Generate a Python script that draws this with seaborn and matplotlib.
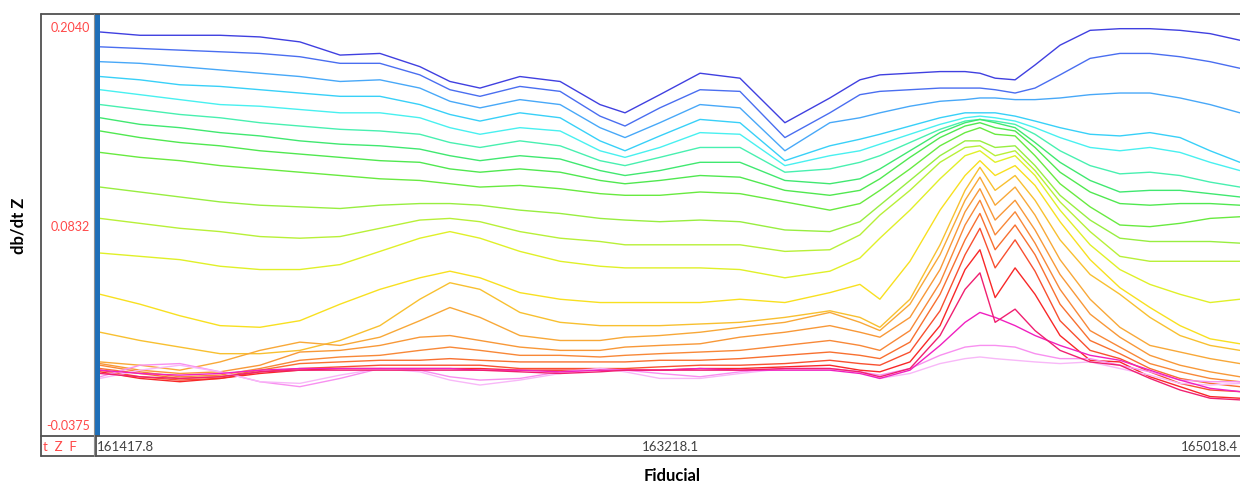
import matplotlib
matplotlib.use("Agg")
import matplotlib.pyplot as plt
import pandas as pd
import seaborn as sns
from matplotlib.lines import Line2D
from matplotlib.patches import Rectangle

# ---------------- data ----------------
FIDUCIAL = [161418, 161544, 161670, 161797, 161923, 162049, 162176, 162302, 162428,
            162523, 162618, 162744, 162871, 162997, 163076, 163186, 163313, 163439,
            163581, 163723, 163818, 163881, 163976, 164071, 164150, 164197, 164245,
            164308, 164371, 164450, 164545, 164639, 164734, 164829, 164924, 165018]

L1 = [0.201,0.199,0.199,0.199,0.198,0.195,0.187,0.188,0.180,0.171,0.167,0.174,0.171,0.157,0.152,0.163,0.176,0.173,0.146,0.161,0.172,0.175,0.176,0.177,0.177,0.176,0.173,0.172,0.181,0.193,0.202,0.203,0.203,0.202,0.200,0.196]
L2 = [0.192,0.191,0.190,0.189,0.188,0.186,0.182,0.182,0.175,0.166,0.162,0.168,0.165,0.150,0.144,0.155,0.166,0.165,0.137,0.152,0.163,0.165,0.166,0.167,0.167,0.167,0.166,0.164,0.167,0.175,0.185,0.188,0.188,0.186,0.183,0.179]
L3 = [0.183,0.182,0.180,0.178,0.176,0.174,0.171,0.172,0.167,0.159,0.155,0.160,0.157,0.143,0.137,0.146,0.157,0.155,0.129,0.146,0.149,0.152,0.156,0.159,0.160,0.161,0.161,0.160,0.160,0.161,0.163,0.164,0.164,0.161,0.157,0.152]
L4 = [0.174,0.172,0.169,0.168,0.166,0.164,0.162,0.162,0.157,0.151,0.147,0.152,0.149,0.135,0.129,0.138,0.148,0.146,0.123,0.132,0.136,0.139,0.144,0.149,0.152,0.152,0.152,0.150,0.147,0.143,0.139,0.138,0.140,0.137,0.129,0.122]
L5 = [0.166,0.163,0.160,0.157,0.156,0.154,0.152,0.152,0.149,0.143,0.139,0.143,0.141,0.129,0.125,0.131,0.140,0.139,0.120,0.126,0.129,0.133,0.139,0.145,0.149,0.150,0.149,0.147,0.143,0.137,0.131,0.129,0.131,0.128,0.122,0.117]
L6 = [0.157,0.154,0.151,0.149,0.146,0.144,0.142,0.141,0.139,0.134,0.131,0.135,0.132,0.123,0.120,0.125,0.131,0.131,0.116,0.118,0.122,0.126,0.134,0.142,0.147,0.148,0.147,0.145,0.139,0.129,0.120,0.115,0.116,0.114,0.110,0.107]
L7 = [0.149,0.145,0.143,0.140,0.138,0.135,0.133,0.132,0.130,0.126,0.123,0.126,0.124,0.117,0.114,0.117,0.122,0.122,0.111,0.109,0.112,0.118,0.129,0.140,0.146,0.148,0.146,0.143,0.134,0.122,0.111,0.104,0.105,0.105,0.103,0.101]
L8 = [0.141,0.137,0.134,0.132,0.129,0.127,0.125,0.123,0.122,0.118,0.116,0.118,0.116,0.111,0.109,0.111,0.114,0.113,0.105,0.102,0.105,0.112,0.125,0.137,0.144,0.146,0.143,0.141,0.131,0.116,0.104,0.097,0.096,0.097,0.097,0.096]
L9 = [0.128,0.125,0.123,0.120,0.118,0.116,0.114,0.112,0.111,0.109,0.107,0.108,0.106,0.103,0.102,0.102,0.104,0.103,0.098,0.093,0.097,0.105,0.118,0.132,0.140,0.143,0.139,0.138,0.126,0.109,0.095,0.084,0.083,0.085,0.088,0.089]
L10 = [0.107,0.104,0.101,0.098,0.096,0.095,0.094,0.096,0.097,0.097,0.096,0.093,0.091,0.088,0.087,0.086,0.087,0.086,0.081,0.080,0.086,0.096,0.111,0.126,0.135,0.135,0.131,0.132,0.120,0.102,0.087,0.076,0.074,0.074,0.074,0.073]
L11 = [0.088,0.085,0.082,0.080,0.077,0.076,0.077,0.082,0.087,0.088,0.086,0.080,0.076,0.074,0.072,0.072,0.072,0.072,0.068,0.069,0.078,0.090,0.105,0.122,0.131,0.132,0.126,0.129,0.117,0.098,0.080,0.065,0.062,0.062,0.062,0.062]
L12 = [0.067,0.065,0.063,0.059,0.057,0.057,0.060,0.068,0.076,0.080,0.076,0.068,0.062,0.059,0.058,0.058,0.058,0.057,0.052,0.056,0.064,0.076,0.093,0.112,0.126,0.129,0.122,0.126,0.114,0.093,0.072,0.057,0.048,0.042,0.037,0.039]
L13 = [0.042,0.036,0.029,0.023,0.022,0.026,0.036,0.045,0.052,0.056,0.052,0.043,0.039,0.037,0.037,0.037,0.037,0.039,0.037,0.043,0.048,0.039,0.062,0.093,0.114,0.123,0.114,0.120,0.108,0.086,0.063,0.046,0.034,0.023,0.015,0.012]
L14 = [0.019,0.014,0.010,0.006,0.006,0.008,0.014,0.023,0.039,0.049,0.045,0.031,0.025,0.023,0.023,0.023,0.024,0.025,0.028,0.032,0.028,0.022,0.039,0.072,0.105,0.119,0.105,0.114,0.099,0.075,0.054,0.042,0.028,0.017,0.011,0.008]
C1 = [0.001,-0.001,-0.004,0.001,0.008,0.013,0.011,0.016,0.026,0.034,0.028,0.017,0.014,0.014,0.016,0.017,0.019,0.022,0.025,0.031,0.025,0.020,0.036,0.066,0.099,0.113,0.096,0.107,0.090,0.063,0.039,0.022,0.011,0.007,0.003,0.000]
C2 = [0.000,-0.004,-0.006,-0.005,-0.001,0.007,0.008,0.011,0.016,0.017,0.014,0.010,0.008,0.008,0.010,0.011,0.012,0.016,0.019,0.023,0.019,0.016,0.028,0.057,0.092,0.106,0.087,0.099,0.081,0.054,0.030,0.016,0.005,-0.001,-0.005,-0.008]
C3 = [-0.001,-0.005,-0.008,-0.007,-0.003,0.002,0.004,0.005,0.008,0.010,0.008,0.005,0.005,0.004,0.005,0.006,0.007,0.008,0.011,0.014,0.011,0.008,0.020,0.049,0.084,0.099,0.078,0.092,0.073,0.045,0.020,0.010,0.000,-0.005,-0.009,-0.011]
C4 = [-0.003,-0.006,-0.009,-0.008,-0.004,0.000,0.001,0.002,0.002,0.003,0.002,0.001,0.001,0.001,0.001,0.002,0.002,0.003,0.005,0.007,0.005,0.003,0.013,0.042,0.075,0.091,0.069,0.084,0.066,0.036,0.014,0.006,-0.003,-0.009,-0.012,-0.014]
C5 = [-0.004,-0.008,-0.010,-0.009,-0.005,-0.003,-0.002,-0.001,-0.001,-0.001,-0.001,-0.003,-0.003,-0.003,-0.003,-0.002,-0.001,-0.001,0.000,0.002,0.000,-0.001,0.007,0.032,0.066,0.082,0.058,0.075,0.056,0.026,0.008,0.003,-0.005,-0.012,-0.016,-0.017]
C6 = [-0.005,-0.009,-0.011,-0.009,-0.006,-0.004,-0.003,-0.003,-0.003,-0.003,-0.003,-0.004,-0.004,-0.004,-0.004,-0.004,-0.003,-0.003,-0.002,-0.001,-0.004,-0.005,0.001,0.023,0.057,0.069,0.040,0.058,0.042,0.017,0.002,0.001,-0.008,-0.014,-0.020,-0.021]
C7 = [-0.006,-0.008,-0.009,-0.008,-0.005,-0.004,-0.004,-0.004,-0.004,-0.004,-0.004,-0.005,-0.006,-0.005,-0.004,-0.004,-0.004,-0.004,-0.003,-0.003,-0.005,-0.008,-0.003,0.017,0.045,0.055,0.025,0.033,0.020,0.008,0.001,-0.001,-0.009,-0.016,-0.021,-0.022]
C8 = [-0.004,-0.006,-0.007,-0.006,-0.004,-0.003,-0.003,-0.003,-0.003,-0.003,-0.004,-0.004,-0.005,-0.004,-0.004,-0.004,-0.003,-0.004,-0.004,-0.004,-0.006,-0.009,-0.004,0.011,0.025,0.031,0.028,0.023,0.017,0.011,0.005,0.002,-0.004,-0.010,-0.015,-0.017]
C9 = [-0.008,-0.001,0.000,-0.005,-0.011,-0.014,-0.009,-0.003,-0.004,-0.008,-0.010,-0.009,-0.005,-0.003,-0.004,-0.006,-0.008,-0.005,-0.003,-0.003,-0.005,-0.007,-0.003,0.005,0.010,0.011,0.011,0.010,0.006,0.003,0.003,-0.001,-0.005,-0.010,-0.011,-0.011]
C10 = [-0.009,-0.004,-0.001,-0.005,-0.011,-0.012,-0.007,-0.003,-0.005,-0.010,-0.013,-0.010,-0.006,-0.003,-0.005,-0.009,-0.009,-0.006,-0.003,-0.003,-0.005,-0.009,-0.006,0.000,0.003,0.004,0.003,0.002,0.001,0.000,0.001,-0.003,-0.007,-0.012,-0.013,-0.012]

SERIES = {"L1": L1, "L2": L2, "L3": L3, "L4": L4, "L5": L5, "L6": L6, "L7": L7,
          "L8": L8, "L9": L9, "L10": L10, "L11": L11, "L12": L12, "L13": L13,
          "L14": L14, "C1": C1, "C2": C2, "C3": C3, "C4": C4, "C5": C5, "C6": C6,
          "C9": C9, "C10": C10, "C8": C8, "C7": C7}

COLORS = {"L1": "#4040e0", "L2": "#4a6ef0", "L3": "#48a8f8", "L4": "#38d0f8",
          "L5": "#48f0f0", "L6": "#48f0b0", "L7": "#40e870", "L8": "#50e850",
          "L9": "#68ea40", "L10": "#98ee40", "L11": "#b8f038", "L12": "#e0f028",
          "L13": "#f8e020", "L14": "#f8c030", "C1": "#f8a838", "C2": "#f89838",
          "C3": "#f88838", "C4": "#f87030", "C5": "#f85030", "C6": "#f82828",
          "C7": "#f02070", "C8": "#f020c0", "C9": "#f890f0", "C10": "#f8b8f8"}

Y_TICKS = [0.2040, 0.0832, -0.0375]
Y_TICK_LABELS = ["0.2040", "0.0832", "-0.0375"]
X_TICKS = [161417.8, 163218.1, 165018.4]
X_TICK_LABELS = ["161417.8", "163218.1", "165018.4"]
X_LABEL = "Fiducial"
Y_LABEL = "db/dt Z"
CORNER_TEXT = "t  Z  F"

# ---------------- figure ----------------
sns.set_theme(style="white")
plt.rcParams["font.family"] = ["Lato", "DejaVu Sans"]

W, H = 1240, 484
fig = plt.figure(figsize=(W / 100, H / 100), dpi=100)


def fx(px):
    return px / W


def fy(py):
    return 1 - py / H


ax = fig.add_axes([fx(100), fy(436), fx(1240) - fx(100), fy(14) - fy(436)])

rows = []
for name, vals in SERIES.items():
    for f, v in zip(FIDUCIAL, vals):
        rows.append((name, f, v))
df = pd.DataFrame(rows, columns=["series", X_LABEL, Y_LABEL])

sns.lineplot(data=df, x=X_LABEL, y=Y_LABEL, hue="series", hue_order=list(SERIES),
             palette=COLORS, estimator=None, sort=False, legend=False,
             linewidth=1.0, ax=ax)

ax.set_xlim(161417.8, 165018.4)
ax.set_ylim(-0.0439, 0.2119)
for s in ax.spines.values():
    s.set_visible(False)
ax.set_yticks(Y_TICKS)
ax.set_yticklabels(Y_TICK_LABELS, color="#ff4848", fontsize=9)
ax.tick_params(axis="y", length=0, pad=7)
ax.set_xticks([])
ax.set_xlabel("")
ax.set_ylabel("")

# x tick labels in the strip below the plot
offsets = [(-3, "left"), (0, "center"), (-2, "right")]
for val, lab, (dx, ha) in zip(X_TICKS, X_TICK_LABELS, offsets):
    ax.annotate(lab, xy=(val, 0), xycoords=("data", "axes fraction"),
                xytext=(dx, -11), textcoords="offset pixels", ha=ha, va="center",
                color="#404040", fontsize=9.5, annotation_clip=False)

# frame lines
frame_c = "#505050"
for (x0, y0, x1, y1) in [(41, 14, 1240, 14), (41, 456, 1240, 456),
                          (41, 436, 1240, 436), (41, 14, 41, 456)]:
    fig.add_artist(Line2D([fx(x0), fx(x1)], [fy(y0), fy(y1)], color=frame_c,
                          lw=1.3, transform=fig.transFigure))
fig.add_artist(Line2D([fx(94.5), fx(94.5)], [fy(14), fy(456)], color="#909090",
                      lw=0.8, transform=fig.transFigure))
fig.add_artist(Line2D([fx(95.5), fx(95.5)], [fy(436), fy(456)], color=frame_c,
                      lw=1.3, transform=fig.transFigure))
fig.add_artist(Rectangle((fx(95), fy(436)), fx(100) - fx(95), fy(14) - fy(436),
                         color="#1f6fb8", transform=fig.transFigure, lw=0))

fig.text(fx(43), fy(447), CORNER_TEXT, ha="left", va="center", color="#ff4848",
         fontsize=9.5)
fig.text(fx(18), fy(226), Y_LABEL, ha="center", va="center", rotation=90,
         fontsize=12, fontweight="bold", color="black")
fig.text(fx(672), fy(476), X_LABEL, ha="center", va="center",
         fontsize=12, fontweight="bold", color="black")

fig.savefig("out.png", dpi=100)
